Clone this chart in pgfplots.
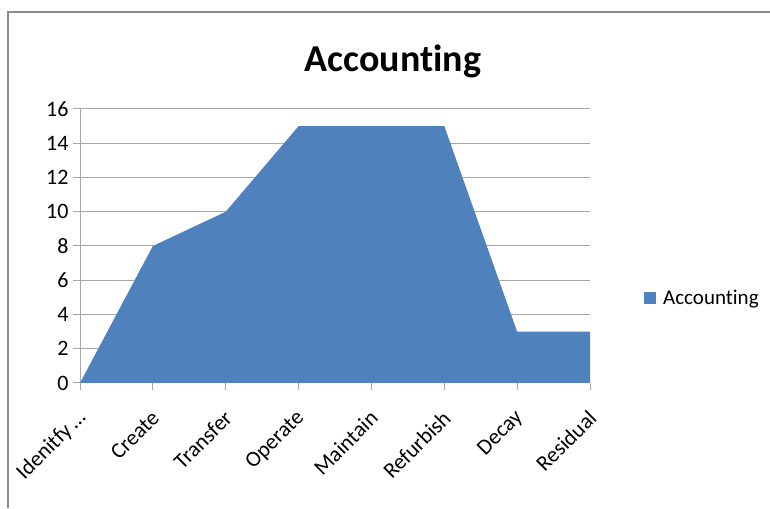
\documentclass[border=0pt]{standalone}
\usepackage{fontspec}
\setmainfont[Ligatures=NoCommon]{Carlito}
\usepackage{pgfplots}
\pgfplotsset{compat=1.18}
\definecolor{xlblue}{HTML}{4F81BD}
\definecolor{gridgray}{HTML}{A6A6A6}
\definecolor{framegray}{HTML}{8C8C8C}
\begin{document}
\begin{tikzpicture}
\path[use as bounding box] (0pt,0pt) rectangle (770pt,508pt);
\draw[framegray, line width=2pt] (8pt,0pt) -- (8pt,496pt) -- (770pt,496pt);
\node[anchor=base, font=\bfseries\fontsize{38}{40}\selectfont] at (393pt,436pt) {Accounting};
\begin{axis}[
  at={(80pt,125pt)}, anchor=south west,
  scale only axis, width=510pt, height=274pt,
  xmin=0, xmax=7, ymin=0, ymax=16,
  xtick={0,...,7},
  xticklabels={Idenitfy\,\dots, Create, Transfer, Operate, Maintain, Refurbish, Decay, Residual},
  ytick={0,2,...,16},
  axis lines*=left,
  axis line style={gridgray, line width=1pt},
  tick style={gridgray, line width=1pt},
  tick align=outside,
  major tick length=7pt,
  ymajorgrids,
  grid style={gridgray, line width=1pt},
  /pgf/number format/assume math mode=true,
  ticklabel style={font=\fontsize{22}{24}\selectfont},
  yticklabel style={xshift=-1pt},
  xticklabel style={xshift=5pt, yshift=-22pt, rotate=45, anchor=east},
  legend style={at={(1.10,0.31)}, anchor=west, draw=none, fill=none,
    font=\fontsize{21}{23}\selectfont, column sep=5pt},
  legend image code/.code={\fill[#1] (0pt,-6pt) rectangle (12pt,6pt);},
]
\addplot[fill=xlblue, draw=none] coordinates {
  (0,0) (1,8) (2,10) (3,15) (4,15) (5,15) (6,3) (7,3)
} \closedcycle;
\addlegendentry{Accounting}
\end{axis}
\end{tikzpicture}
\end{document}
